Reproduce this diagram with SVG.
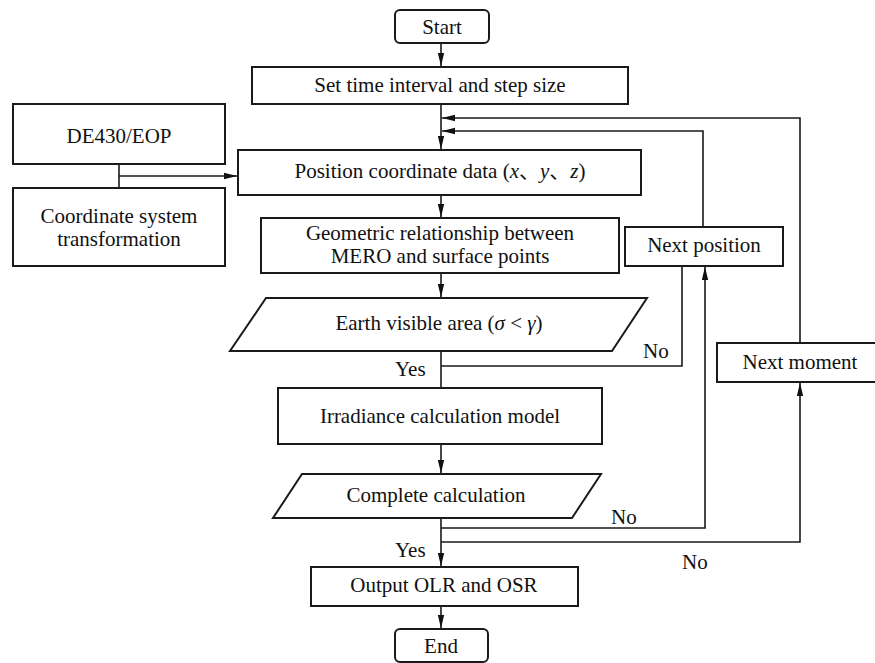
<svg xmlns="http://www.w3.org/2000/svg" width="875" height="663" viewBox="0 0 875 663">
<style>
.box{fill:#fff;stroke:#1a1a1a;stroke-width:2}
.t{font-family:"Liberation Serif","Times New Roman",serif;font-size:21px;fill:#111;text-anchor:middle}
.l{font-family:"Liberation Serif","Times New Roman",serif;font-size:21px;fill:#111}
.i{font-style:italic}
.cjk{font-family:"Noto Sans CJK SC",sans-serif;font-style:normal}
.c{fill:none;stroke:#1a1a1a;stroke-width:1.6}
</style>
<defs>
<marker id="ah" markerUnits="userSpaceOnUse" markerWidth="14" markerHeight="8" refX="13" refY="4" orient="auto">
<path d="M0,0.8 L13,4 L0,7.2 Z" fill="#111"/>
</marker>
</defs>
<rect width="875" height="663" fill="#fff"/>

<g id="connectors">
<path class="c" d="M441,43 V66" marker-end="url(#ah)"/>
<path class="c" d="M441,104 V149" marker-end="url(#ah)"/>
<path class="c" d="M800,343 V118 H442" marker-end="url(#ah)"/>
<path class="c" d="M703,227 V131 H442" marker-end="url(#ah)"/>
<path class="c" d="M441,195 V217" marker-end="url(#ah)"/>
<path class="c" d="M441,273 V297" marker-end="url(#ah)"/>
<path class="c" d="M441,351 V388"/>
<path class="c" d="M441,366 H682 V266"/>
<path class="c" d="M441,444 V473" marker-end="url(#ah)"/>
<path class="c" d="M441,518 V566" marker-end="url(#ah)"/>
<path class="c" d="M441,528 H705 V267" marker-end="url(#ah)"/>
<path class="c" d="M441,542 H800 V383" marker-end="url(#ah)"/>
<path class="c" d="M441,606 V628" marker-end="url(#ah)"/>
<path class="c" d="M119,164 V188"/>
<path class="c" d="M119,176 H237" marker-end="url(#ah)"/>
</g>

<g id="start">
<rect class="box" x="395" y="10" width="94" height="33" rx="5"/>
<text class="t" x="442" y="34">Start</text>
</g>
<g id="set-time">
<rect class="box" x="252" y="67" width="376" height="37"/>
<text class="t" x="440" y="92">Set time interval and step size</text>
</g>
<g id="de430">
<rect class="box" x="13" y="104" width="212" height="60"/>
<text class="t" x="119" y="143">DE430/EOP</text>
</g>
<g id="coord-transform">
<rect class="box" x="13" y="188" width="212" height="78"/>
<text class="t" x="119" y="223">Coordinate system</text>
<text class="t" x="119" y="246">transformation</text>
</g>
<g id="position">
<rect class="box" x="238" y="150" width="403" height="45"/>
<text class="t" x="440" y="178">Position coordinate data (<tspan class="i">x</tspan><tspan class="cjk">、</tspan><tspan class="i">y</tspan><tspan class="cjk">、</tspan><tspan class="i">z</tspan>)</text>
</g>
<g id="geometric">
<rect class="box" x="261" y="218" width="358" height="55"/>
<text class="t" x="440" y="240">Geometric relationship between</text>
<text class="t" x="440" y="263">MERO and surface points</text>
</g>
<g id="next-position">
<rect class="box" x="625" y="227" width="158" height="39"/>
<text class="t" x="704" y="252">Next position</text>
</g>
<g id="earth-visible">
<polygon class="box" points="266,298 647,298 612,351 230,351"/>
<text class="t" x="439" y="330">Earth visible area (<tspan class="i">σ</tspan> &lt; <tspan class="i">γ</tspan>)</text>
</g>
<g id="next-moment">
<rect class="box" x="717" y="343" width="170" height="39"/>
<text class="t" x="800" y="369">Next moment</text>
</g>
<g id="irradiance">
<rect class="box" x="278" y="388" width="324" height="56"/>
<text class="t" x="440" y="423">Irradiance calculation model</text>
</g>
<g id="complete">
<polygon class="box" points="302,474 601,474 572,518 273,518"/>
<text class="t" x="436" y="502">Complete calculation</text>
</g>
<g id="output">
<rect class="box" x="311" y="567" width="267" height="39"/>
<text class="t" x="444" y="592">Output OLR and OSR</text>
</g>
<g id="end">
<rect class="box" x="395" y="629" width="93" height="33" rx="5"/>
<text class="t" x="441" y="653">End</text>
</g>

<g id="labels">
<text class="l" x="395" y="376">Yes</text>
<text class="l" x="643" y="358">No</text>
<text class="l" x="611" y="524">No</text>
<text class="l" x="395" y="557">Yes</text>
<text class="l" x="682" y="569">No</text>
</g>
</svg>
